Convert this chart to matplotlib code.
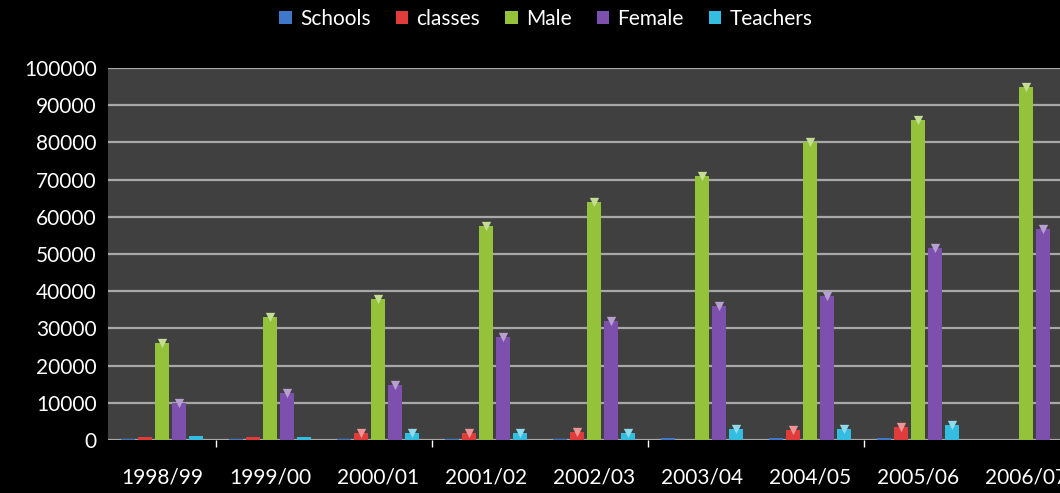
import matplotlib
matplotlib.use('Agg')
from matplotlib import pyplot as plt
from matplotlib import colors as mcolors
import numpy as np

years = ['1998/99', '1999/00', '2000/01', '2001/02', '2002/03',
         '2003/04', '2004/05', '2005/06', '2006/07']
schools = [300, 300, 400, 400, 400, 500, 500, 500, 0]
classes = [800, 800, 2000, 2000, 2200, 0, 2800, 3500, 0]
male = [26000, 33000, 38000, 57500, 64000, 71000, 80000, 86000, 95000]
female = [10000, 12600, 14800, 27700, 32000, 36000, 38700, 51600, 56700]
teachers = [1000, 900, 2000, 2000, 2000, 3000, 3000, 4000, 0]

series = [('Schools', schools, '#3f78c8'),
          ('classes', classes, '#e03c3c'),
          ('Male', male, '#94c23a'),
          ('Female', female, '#7e50ad'),
          ('Teachers', teachers, '#33bde0')]

plt.rcParams['font.family'] = ['Lato', 'DejaVu Sans']

fig = plt.figure(figsize=(10.6, 4.93), dpi=100, facecolor='black')
# axes runs past the right edge like the original crop
ax = fig.add_axes([108 / 1060, 53 / 493, 972 / 1060, 372 / 493])
ax.set_facecolor('#404040')

x = np.arange(len(years))
step = 0.159
width = 0.13
for i, (name, vals, col) in enumerate(series):
    off = (i - 2) * step
    vals = np.array(vals)
    ax.bar(x + off, vals, width, color=col, label=name, zorder=3)
    # lighter cap on top of each bar (only where there is a bar)
    cap = 0.55 * np.array(mcolors.to_rgb(col)) + 0.45
    keep = vals > 1000
    ax.scatter((x + off)[keep], vals[keep], s=45, marker='v', color=cap,
               linewidths=0, zorder=4)

ax.set_xlim(-0.5, 8.5)
ax.set_ylim(0, 100000)
ax.set_yticks(np.arange(0, 100001, 10000))
ax.yaxis.grid(True, color='#a8a8a8', linewidth=1.6, zorder=1)
ax.set_axisbelow(True)

ax.set_xticks(x)
ax.set_xticklabels(years)
ax.set_xticks([0.5, 2.5, 4.5, 6.5], minor=True)
ax.tick_params(axis='x', which='major', length=0, pad=20, colors='white',
               labelsize=15)
ax.tick_params(axis='x', which='minor', length=5, color='white', width=1)
ax.tick_params(axis='y', length=0, pad=8, colors='white', labelsize=15)

for s in ax.spines.values():
    s.set_visible(False)

leg = fig.legend(loc='upper center', bbox_to_anchor=(0.515, 1.02), ncol=5,
                 frameon=False, fontsize=15, handlelength=0.6,
                 handleheight=0.6, handletextpad=0.4, columnspacing=1.2)
for t in leg.get_texts():
    t.set_color('white')

plt.savefig('out.png', facecolor='black')
